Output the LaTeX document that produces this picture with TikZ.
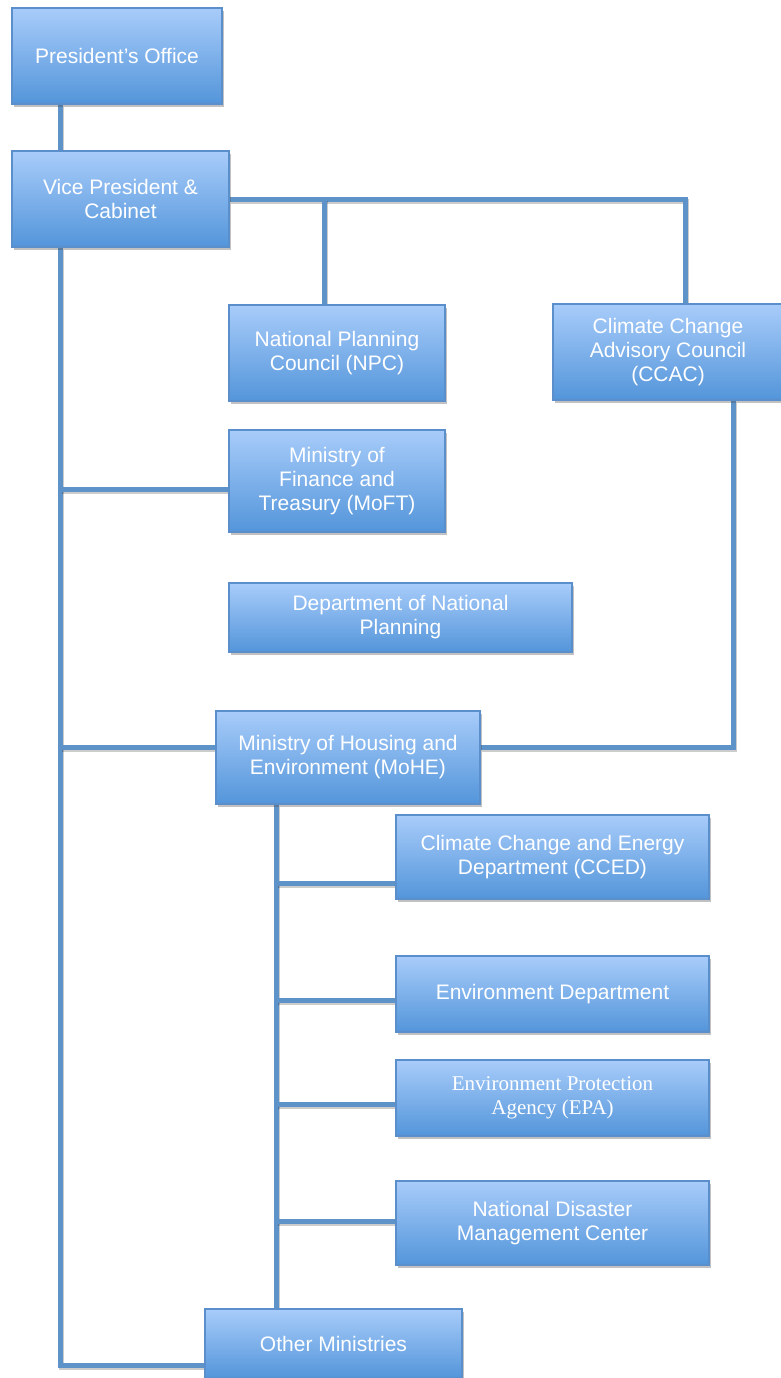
\documentclass[tikz,border=0pt]{standalone}
\usepackage{fontspec}
\setmainfont{Liberation Sans}
\newfontfamily\timesfont{Liberation Serif}
\usetikzlibrary{shadows,backgrounds}
\definecolor{boxtop}{HTML}{A8CCFA}
\definecolor{boxbot}{HTML}{5395DA}
\definecolor{boxedge}{HTML}{5A8FCB}
\definecolor{linkblue}{HTML}{5E93C9}
\begin{document}
\begin{tikzpicture}[x=1pt,y=-1pt,
  box/.style={draw=boxedge, line width=1.2pt, top color=boxtop, bottom color=boxbot,
    text=white, align=center, inner sep=0pt,
    font=\fontsize{21}{24}\selectfont,
    drop shadow={shadow xshift=2pt, shadow yshift=-3pt, opacity=0.35, fill=black!70}},
  link/.style={draw=linkblue, line width=5pt,
    preaction={draw=black, opacity=0.2, line width=5pt, transform canvas={shift={(1.5pt,-2pt)}}}}]
\useasboundingbox (0,0) rectangle (781,1378);
% top of the chart
\node[box, minimum width=210, minimum height=96] (pres) at (117,56) {President's Office};
\node[box, minimum width=217, minimum height=96] (vp) at (120.5,199) {Vice President \&\\Cabinet};
\node[box, minimum width=216, minimum height=96] (npc) at (337,353) {National Planning\\Council (NPC)};
\node[box, minimum width=230, minimum height=96] (ccac) at (668,352) {Climate Change\\Advisory Council\\(CCAC)};
\node[box, minimum width=216, minimum height=102] (moft) at (337,481) {Ministry of\\Finance and\\Treasury (MoFT)};
\node[box, minimum width=343, minimum height=69] (dnp) at (400.5,617.5) {Department of National\\Planning};
\node[box, minimum width=264, minimum height=93] (mohe) at (348,757.5) {Ministry of Housing and\\Environment (MoHE)};
% departments under MoHE
\node[box, minimum width=313, minimum height=84] (cced) at (552.5,857) {Climate Change and Energy\\Department (CCED)};
\node[box, minimum width=313, minimum height=76] (envd) at (552.5,994) {Environment Department};
\node[box, minimum width=313, minimum height=76, font=\timesfont\fontsize{21}{24}\selectfont] (epa) at (552.5,1098) {Environment Protection\\Agency (EPA)};
\node[box, minimum width=313, minimum height=84] (ndmc) at (552.5,1223) {National Disaster\\Management Center};
\node[box, minimum width=257, minimum height=69] (other) at (333.5,1343.5) {Other Ministries};
\coordinate (spine) at ([xshift=49pt]vp.south west);
\coordinate (sub) at ([xshift=61pt]mohe.south west);
\begin{scope}[on background layer]
\draw[link] ([xshift=49pt]pres.south west) -- ([xshift=49pt]vp.north west);
\draw[link] (vp.east) -| ([xshift=17pt]ccac.north);
\draw[link] ([xshift=-13pt]npc.north) -- ([xshift=-13pt]npc.north |- vp.east);
\draw[link] (spine) |- ([yshift=-22pt]other.west);
\draw[link] ([yshift=-8pt]moft.west) -- ([yshift=-8pt]moft.west -| spine);
\draw[link] ([yshift=10pt]mohe.west) -- ([yshift=10pt]mohe.west -| spine);
\draw[link] ([yshift=10pt]mohe.east) -| ([xshift=65pt]ccac.south);
\draw[link] (sub) -- (sub |- other.north);
\draw[link] ([yshift=-26pt]cced.west) -- ([yshift=-26pt]cced.west -| sub);
\draw[link] ([yshift=-6pt]envd.west) -- ([yshift=-6pt]envd.west -| sub);
\draw[link] ([yshift=-6pt]epa.west) -- ([yshift=-6pt]epa.west -| sub);
\draw[link] ([yshift=2pt]ndmc.west) -- ([yshift=2pt]ndmc.west -| sub);
\end{scope}
\end{tikzpicture}
\end{document}
